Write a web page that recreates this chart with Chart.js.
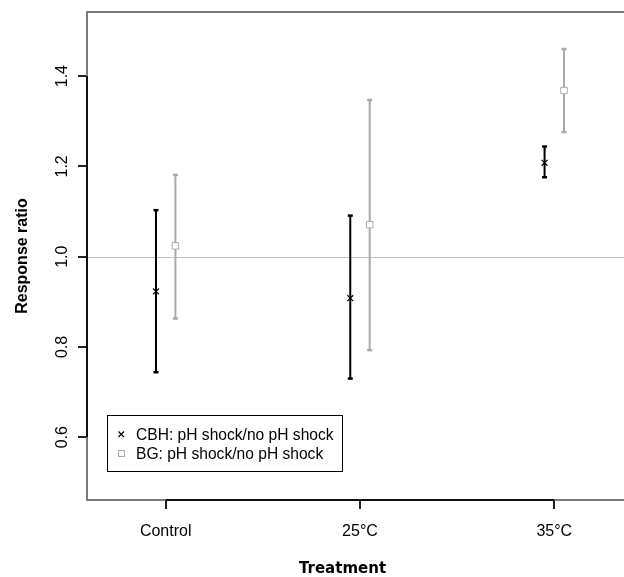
<!DOCTYPE html>
<html><head><meta charset="utf-8">
<script src="https://cdn.jsdelivr.net/npm/chart.js@4.4.0/dist/chart.umd.min.js"></script>
<style>
html,body{margin:0;padding:0;background:#fff;overflow:hidden;width:624px;height:577px}
#wrap{width:624px;height:577px;overflow:hidden;position:relative}
canvas{display:block}
</style></head>
<body><div id="wrap"><canvas id="c" width="650" height="577"></canvas></div>
<script>
const categories = ['Control', '25°C', '35°C'];
const cbhMean = [0.923, 0.908, 1.208];
const cbhLow  = [0.744, 0.730, 1.176];
const cbhHigh = [1.103, 1.091, 1.244];
const bgMean  = [1.024, 1.071, 1.368];
const bgLow   = [0.863, 0.793, 1.276];
const bgHigh  = [1.181, 1.347, 1.460];
const yTicks = [0.6, 0.8, 1.0, 1.2, 1.4];
const seriesLabels = ['CBH: pH shock/no pH shock', 'BG: pH shock/no pH shock'];
const refValue = 1.0;
const xTitle = 'Treatment';
const yTitle = 'Response ratio';

const OFF = 0.05;
const BLACK = '#000000';
const GREY = '#aaaaaa';
const FONT = "'Liberation Sans', Arial, sans-serif";

function barData(lo, hi, off) {
  const d = [];
  lo.forEach((v, i) => {
    const x = i + 1 + off;
    d.push({x: x, y: v}, {x: x, y: hi[i]}, {x: x, y: null});
  });
  return d;
}
function ptData(m, off) { return m.map((v, i) => ({x: i + 1 + off, y: v})); }

const deco = {
  id: 'deco',
  beforeDatasetsDraw(chart) {
    const {ctx, chartArea: a, scales: {y}} = chart;
    const py = Math.round(y.getPixelForValue(refValue)) + 0.5;
    ctx.save();
    ctx.strokeStyle = '#c4c4c4';
    ctx.lineWidth = 1;
    ctx.beginPath(); ctx.moveTo(a.left, py); ctx.lineTo(a.right, py); ctx.stroke();
    ctx.restore();
  },
  afterDraw(chart) {
    const {ctx, chartArea: a, scales: {x, y}} = chart;
    ctx.save();
    ctx.strokeStyle = '#7a7a7a';
    ctx.lineWidth = 2;
    ctx.strokeRect(a.left, a.top, a.right - a.left, a.bottom - a.top);
    ctx.strokeStyle = '#111';
    ctx.lineWidth = 2;
    const yt = y.ticks.map(t => y.getPixelForValue(t.value));
    const xt = x.ticks.map(t => x.getPixelForValue(t.value));
    ctx.beginPath();
    ctx.moveTo(a.left, Math.min(...yt)); ctx.lineTo(a.left, Math.max(...yt));
    ctx.moveTo(Math.min(...xt), a.bottom); ctx.lineTo(Math.max(...xt), a.bottom);
    ctx.stroke();
    ctx.fillStyle = '#000';
    ctx.font = '16px ' + FONT;
    ctx.textAlign = 'center';
    ctx.textBaseline = 'alphabetic';
    y.ticks.forEach(t => {
      const py = y.getPixelForValue(t.value);
      ctx.save();
      ctx.translate(66.5, py);
      ctx.rotate(-Math.PI / 2);
      ctx.fillText(t.value.toFixed(1), 0, 0);
      ctx.restore();
    });
    x.ticks.forEach(t => {
      ctx.fillText(categories[t.value - 1], x.getPixelForValue(t.value), 536);
    });
    ctx.font = 'bold 16px ' + FONT;
    ctx.save();
    ctx.translate(26.5, (a.top + a.bottom) / 2);
    ctx.rotate(-Math.PI / 2);
    ctx.fillText(yTitle, 0, 0);
    ctx.restore();
    ctx.font = "bold 15px 'DejaVu Sans', Verdana, sans-serif";
    ctx.fillText(xTitle, 342.5, 573);
    ctx.strokeStyle = '#000';
    ctx.lineWidth = 1;
    ctx.strokeRect(107.5, 415.5, 235, 56);
    ctx.font = '15.6px ' + FONT;
    ctx.textAlign = 'left';
    ctx.fillText(seriesLabels[0], 136, 439.5);
    ctx.fillText(seriesLabels[1], 136, 458.5);
    ctx.lineWidth = 1.2;
    ctx.strokeStyle = BLACK;
    ctx.beginPath();
    ctx.moveTo(118.5, 431.5); ctx.lineTo(124, 437);
    ctx.moveTo(124, 431.5); ctx.lineTo(118.5, 437);
    ctx.stroke();
    ctx.strokeStyle = GREY;
    ctx.lineWidth = 1;
    ctx.strokeRect(118.5, 450.5, 6, 6);
    ctx.restore();
  }
};

new Chart(document.getElementById('c'), {
  type: 'scatter',
  data: {
    datasets: [
      {label: seriesLabels[0] + ' CI', data: barData(cbhLow, cbhHigh, -OFF), showLine: true, spanGaps: false,
       borderColor: BLACK, borderWidth: 2, pointStyle: 'line', pointRadius: 2.5, pointBorderWidth: 2.5,
       pointBorderColor: BLACK, order: 2},
      {label: seriesLabels[1] + ' CI', data: barData(bgLow, bgHigh, OFF), showLine: true, spanGaps: false,
       borderColor: GREY, borderWidth: 2, pointStyle: 'line', pointRadius: 2.5, pointBorderWidth: 2.5,
       pointBorderColor: GREY, order: 2},
      {label: seriesLabels[0], data: ptData(cbhMean, -OFF), showLine: false, pointStyle: 'crossRot',
       pointRadius: 4.2, pointBorderWidth: 1.2, pointBorderColor: BLACK, order: 1},
      {label: seriesLabels[1], data: ptData(bgMean, OFF), showLine: false, pointStyle: 'rect',
       pointRadius: 4.6, pointBorderWidth: 1, pointBorderColor: GREY, pointBackgroundColor: '#ffffff', order: 0}
    ]
  },
  options: {
    responsive: false,
    devicePixelRatio: 1,
    animation: false,
    events: [],
    layout: {padding: {top: 12, right: 18, left: 0, bottom: 0}},
    plugins: {legend: {display: false}, tooltip: {enabled: false}},
    scales: {
      x: {
        type: 'linear', min: 0.595, max: 3.4,
        afterBuildTicks: s => { s.ticks = categories.map((c, i) => ({value: i + 1})); },
        afterFit: s => { s.height = 77; },
        ticks: {display: false},
        border: {display: false},
        grid: {display: true, drawOnChartArea: false, drawTicks: true, tickLength: 9, color: '#222', lineWidth: 2}
      },
      y: {
        type: 'linear', min: 0.461, max: 1.542,
        afterBuildTicks: s => { s.ticks = yTicks.map(v => ({value: v})); },
        afterFit: s => { s.width = 87; },
        ticks: {display: false},
        border: {display: false},
        grid: {display: true, drawOnChartArea: false, drawTicks: true, tickLength: 9, color: '#222', lineWidth: 2}
      }
    }
  },
  plugins: [deco]
});
</script>
</body></html>
